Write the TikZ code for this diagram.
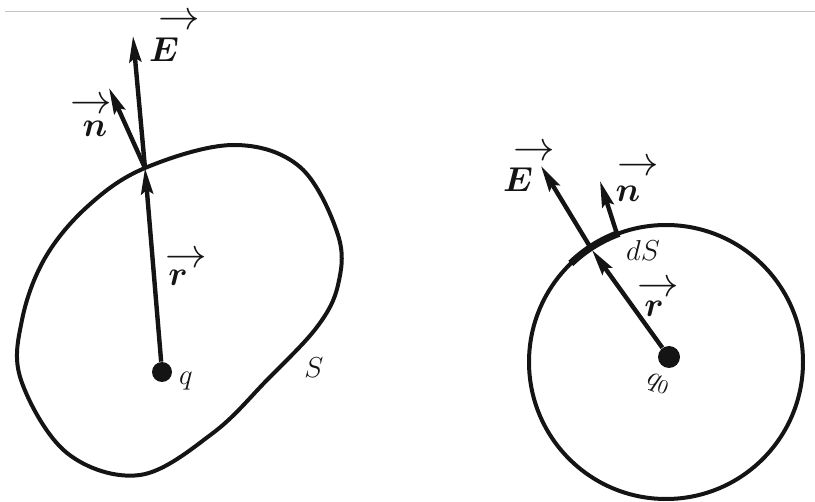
\documentclass[tikz,border=0pt]{standalone}
\usepackage{amsmath,bm}
\usepackage{tikz}
\usetikzlibrary{arrows.meta,positioning,calc}
\definecolor{ink}{HTML}{141414}
\definecolor{rule}{HTML}{C4C4C4}
\tikzset{
  surf/.style={draw=ink,line width=2pt},
  dsarc/.style={draw=ink,line width=3.6pt},
  vect/.style={draw=ink,line width=2.2pt,-{Stealth[length=13pt,width=6pt,inset=2pt]}},
  charge/.style={circle,fill=ink,minimum size=10pt,inner sep=0pt},
  vlbl/.style={font=\LARGE,text=ink,inner sep=1pt},
  vbar/.style={font=\huge,text=ink,inner sep=0pt},
  plbl/.style={font=\Large,text=ink,inner sep=1pt},
}
\begin{document}
\begin{tikzpicture}[x=0.5pt,y=-0.5pt]
    \useasboundingbox (0,0) rectangle (815,502);
    \draw[rule,line width=0.5pt] (5,12) -- (815,12);
    % closed surface S round q
    \coordinate (PL) at (145,168);
    \draw[surf] plot[smooth cycle,tension=0.6] coordinates {(145,168) (233,145) (300,167) (338,235) (338,285) (317,327) (267,380) (213,433) (140,475) (67,453) (21,380) (22,320) (45,258) (88,206)};
    \node[charge] (qL) at (162,372) {};
    \coordinate (EL) at (133,36);
    \coordinate (nL) at (109,88);
    \draw[vect] (qL) -- (PL);
    \draw[vect] (PL) -- (EL);
    \draw[vect] (PL) -- (nL);
    \node[vlbl] (ELt) at (164,50) {$\bm{E}$};
    \node[vbar] (ELa) at (179,22) {$\rightarrow$};
    \node[vlbl] (nLt) at (95,129) {$\bm{n}$};
    \node[vbar] (nLa) at (91,106) {$\rightarrow$};
    \node[vlbl] (rLt) at (178,278) {$\bm{r}$};
    \node[vbar] (rLa) at (186,260) {$\rightarrow$};
    \node[plbl] (qLt) at (186,381) {$q$};
    \node[plbl] (SL) at (314,368) {$S$};
    % sphere round q0
    \coordinate (C) at (666,362);
    \draw[surf] (C) circle[radius=68.5pt];
    \draw[dsarc] (C) ++(134:68.5pt) arc[start angle=134,end angle=110,radius=68.5pt];
    \node[charge,minimum size=11pt] (qR) at (669,357) {};
    \coordinate (PR) at (592,250);
    \coordinate (ER) at (541,166);
    \coordinate (nB) at (617,234);
    \coordinate (nR) at (600,181);
    \draw[vect] (qR) -- (PR);
    \draw[vect] (PR) -- (ER);
    \draw[vect] (nB) -- (nR);
    \node[vlbl] (ERt) at (518,180) {$\bm{E}$};
    \node[vbar] (ERa) at (534,153) {$\rightarrow$};
    \node[vlbl] (nRt) at (628,194) {$\bm{n}$};
    \node[vbar] (nRa) at (638,168) {$\rightarrow$};
    \node[vlbl] (rRt) at (654,309) {$\bm{r}$};
    \node[vbar] (rRa) at (658,289) {$\rightarrow$};
    \node[plbl] (dS) at (643,251) {$dS$};
    \node[plbl,rotate=-20] (qRt) at (658,384) {$q_0$};
\end{tikzpicture}
\end{document}
